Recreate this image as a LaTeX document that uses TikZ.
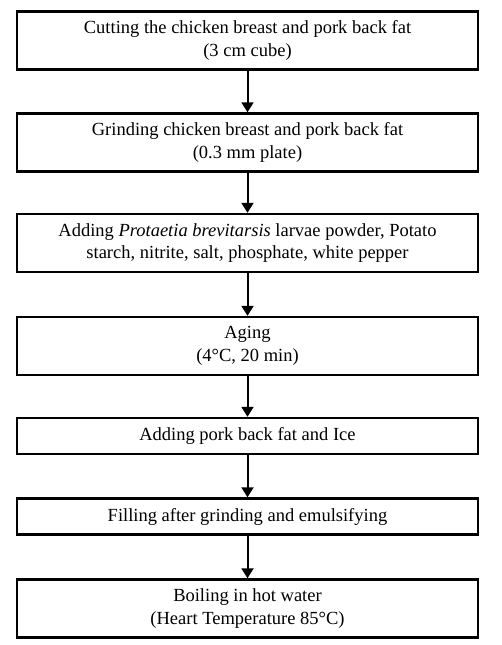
\documentclass[tikz,border=0pt]{standalone}
\usepackage{fontspec}
\setmainfont{Liberation Serif}
\usetikzlibrary{arrows.meta}
\begin{document}
\begin{tikzpicture}[
  stepbox/.style={draw=black, line width=2.4pt, minimum width=461pt, inner sep=0pt,
    align=center, font=\fontsize{18.5}{22.5}\selectfont, text=black},
  twoline/.style={stepbox, minimum height=58pt},
  oneline/.style={stepbox, minimum height=36pt},
  arr/.style={line width=2pt, -{Triangle[length=10pt,width=12pt]}}
]
\useasboundingbox (0pt,0pt) rectangle (502pt,-645pt);
\node[twoline] (b1) at (247.5pt,-40.5pt) {Cutting the chicken breast and pork back fat\\(3 cm cube)};
\node[twoline] (b2) at (247.5pt,-142.5pt) {Grinding chicken breast and pork back fat\\(0.3 mm plate)};
\node[twoline] (b3) at (247.5pt,-243pt) {Adding \textit{Protaetia brevitarsis} larvae powder, Potato\\starch, nitrite, salt, phosphate, white pepper};
\node[twoline] (b4) at (247.5pt,-346pt) {Aging\\(4°C, 20 min)};
\node[oneline] (b5) at (247.5pt,-436pt) {Adding pork back fat and Ice};
\node[oneline] (b6) at (247.5pt,-516.5pt) {Filling after grinding and emulsifying};
\node[twoline] (b7) at (247.5pt,-608.5pt) {Boiling in hot water\\(Heart Temperature 85°C)};
\draw[arr] (b1.south) -- (b2.north);
\draw[arr] (b2.south) -- (b3.north);
\draw[arr] (b3.south) -- (b4.north);
\draw[arr] (b4.south) -- (b5.north);
\draw[arr] (b5.south) -- (b6.north);
\draw[arr] (b6.south) -- (b7.north);
\end{tikzpicture}
\end{document}
